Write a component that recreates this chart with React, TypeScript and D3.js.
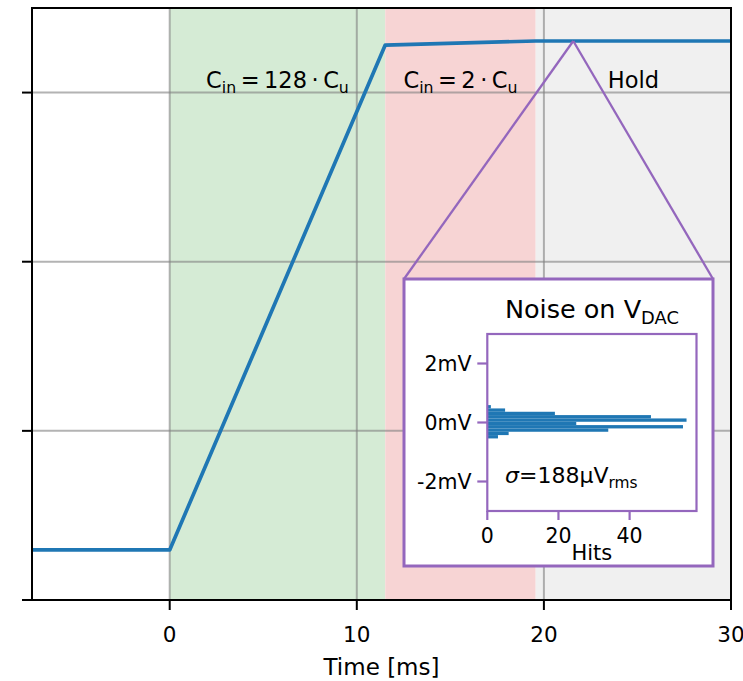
import React from 'react';
import * as d3 from 'd3';

// ---- main trace (arbitrary units, y ticks unlabeled) ----
const timeMs = [-7.36, 0, 11.52, 19.56, 30];
const vdacLevel = [0.296, 0.296, 3.281, 3.305, 3.305];

// ---- phases ----
const phaseStart = [0, 11.52, 19.56];
const phaseEnd = [11.52, 19.56, 30];
const phaseColors = ['#d5ebd5', '#f7d4d4', '#f0f0f0'];
type Seg = { t: string; sub?: boolean; italic?: boolean };
const phaseLabels: Seg[][] = [
  [{ t: 'C' }, { t: 'in', sub: true }, { t: '\u2009=\u2009128\u2009·\u2009' }, { t: 'C' }, { t: 'u', sub: true }],
  [{ t: 'C' }, { t: 'in', sub: true }, { t: '\u2009=\u20092\u2009·\u2009' }, { t: 'C' }, { t: 'u', sub: true }],
  [{ t: 'Hold' }],
];

const xTicks = [0, 10, 20, 30];
const yTicks = [0, 1, 2, 3];
const xLabel = 'Time [ms]';

const zoomPoint = [21.57, 3.305];

// ---- inset histogram ----
const binEdges = [-0.54, -0.427, -0.314, -0.201, -0.088, 0.025, 0.138, 0.251, 0.364, 0.477, 0.59];
const hits = [3, 6, 34, 55, 25, 56, 46, 19, 5, 1];
const hitTicks = [0, 20, 40];
const noiseTicks = [2, 0, -2];
const noiseTickLabels = ['2mV', '0mV', '-2mV'];
const insetTitle: Seg[] = [{ t: 'Noise on V' }, { t: 'DAC', sub: true }];
const sigmaText: Seg[] = [{ t: 'σ', italic: true }, { t: '=188μV' }, { t: 'rms', sub: true }];
const hitsLabel = 'Hits';

const FONT = 'DejaVu Sans, Verdana, sans-serif';
const BLUE = '#1f77b4';
const PURPLE = '#9467bd';

function MathText({ segs, fontSize }: { segs: Seg[]; fontSize: number }) {
  let shift = 0;
  const subDy = fontSize * 0.22;
  return (
    <>
      {segs.map((s, i) => {
        const target = s.sub ? subDy : 0;
        const dy = target - shift;
        shift = target;
        return (
          <tspan
            key={i}
            dy={dy}
            fontSize={s.sub ? fontSize * 0.7 : fontSize}
            fontStyle={s.italic ? 'italic' : undefined}
          >
            {s.t}
          </tspan>
        );
      })}
    </>
  );
}

export default function App() {
  const W = 743;
  const H = 681;
  const x = d3.scaleLinear().domain([-7.36, 30]).range([32, 731]);
  const y = d3.scaleLinear().domain([0, 3.5]).range([600, 8]);
  const line = d3
    .line<number>()
    .x((_, i) => x(timeMs[i]))
    .y((d) => y(d));

  const inset = { x0: 404, y0: 279, x1: 713, y1: 566 };
  const hx = d3.scaleLinear().domain([0, 58.8]).range([487.3, 696.5]);
  const hy = d3.scaleLinear().domain([-3, 3]).range([511, 334]);

  const apexX = x(zoomPoint[0]);
  const apexY = y(zoomPoint[1]);

  return (
    <svg
      width={W}
      height={H}
      style={{ position: 'absolute', left: 0, top: 0, display: 'block', fontFamily: FONT, whiteSpace: 'pre' }}
    >
      <rect x={0} y={0} width={W} height={H} fill="white" />
      {/* phase spans */}
      {phaseStart.map((s, i) => (
        <rect
          key={i}
          x={x(s)}
          y={y(3.5)}
          width={x(phaseEnd[i]) - x(s)}
          height={y(0) - y(3.5)}
          fill={phaseColors[i]}
        />
      ))}
      {/* grid */}
      {xTicks.map((t) => (
        <line key={'gx' + t} x1={x(t)} x2={x(t)} y1={y(0)} y2={y(3.5)} stroke="#808080" strokeOpacity={0.6} strokeWidth={2} />
      ))}
      {yTicks.map((t) => (
        <line key={'gy' + t} x1={x(-7.36)} x2={x(30)} y1={y(t)} y2={y(t)} stroke="#808080" strokeOpacity={0.6} strokeWidth={2} />
      ))}
      {/* phase labels */}
      {phaseLabels.map((segs, i) => (
        <text key={'pl' + i} x={x((phaseStart[i] + phaseEnd[i]) / 2)} y={88} textAnchor="middle" fill="#000">
          <MathText segs={segs} fontSize={22.5} />
        </text>
      ))}
      {/* trace */}
      <path d={line(vdacLevel) || ''} fill="none" stroke={BLUE} strokeWidth={3.7} strokeLinejoin="round" />
      {/* zoom connectors */}
      <line x1={apexX} y1={apexY} x2={inset.x0} y2={inset.y0} stroke={PURPLE} strokeWidth={2.3} />
      <line x1={apexX} y1={apexY} x2={inset.x1} y2={inset.y0} stroke={PURPLE} strokeWidth={2.3} />
      {/* spines */}
      <rect x={x(-7.36)} y={y(3.5)} width={x(30) - x(-7.36)} height={y(0) - y(3.5)} fill="none" stroke="#000" strokeWidth={2} />
      {/* ticks */}
      {yTicks.map((t) => (
        <line key={'ty' + t} x1={x(-7.36) - 10} x2={x(-7.36)} y1={y(t)} y2={y(t)} stroke="#000" strokeWidth={2} />
      ))}
      {xTicks.map((t) => (
        <g key={'tx' + t}>
          <line x1={x(t)} x2={x(t)} y1={y(0)} y2={y(0) + 10} stroke="#000" strokeWidth={2} />
          <text x={x(t)} y={641.5} textAnchor="middle" fontSize={21.5} fill="#000">
            {t}
          </text>
        </g>
      ))}
      <text x={(x(-7.36) + x(30)) / 2} y={675} textAnchor="middle" fontSize={23} fill="#000">
        {xLabel}
      </text>

      {/* inset */}
      <rect
        x={inset.x0}
        y={inset.y0}
        width={inset.x1 - inset.x0}
        height={inset.y1 - inset.y0}
        fill="white"
        stroke={PURPLE}
        strokeWidth={3}
      />
      <text x={(hx.range()[0] + hx.range()[1]) / 2} y={318} textAnchor="middle" fill="#000">
        <MathText segs={insetTitle} fontSize={25.5} />
      </text>
      {hits.map((h, i) => (
        <rect
          key={'b' + i}
          x={hx(0)}
          y={hy(binEdges[i + 1])}
          width={hx(h) - hx(0)}
          height={hy(binEdges[i]) - hy(binEdges[i + 1])}
          fill={BLUE}
        />
      ))}
      <rect
        x={hx(0)}
        y={hy(3)}
        width={hx(58.8) - hx(0)}
        height={hy(-3) - hy(3)}
        fill="none"
        stroke={PURPLE}
        strokeWidth={2.2}
      />
      {noiseTicks.map((t, i) => (
        <g key={'ny' + t}>
          <line x1={hx(0) - 10} x2={hx(0)} y1={hy(t)} y2={hy(t)} stroke={PURPLE} strokeWidth={2.2} />
          <text x={471.5} y={hy(t) + 7.3} textAnchor="end" fontSize={20.5} fill="#000">
            {noiseTickLabels[i]}
          </text>
        </g>
      ))}
      {hitTicks.map((t) => (
        <g key={'hx' + t}>
          <line x1={hx(t)} x2={hx(t)} y1={hy(-3)} y2={hy(-3) + 9} stroke={PURPLE} strokeWidth={2.2} />
          <text x={hx(t)} y={542.5} textAnchor="middle" fontSize={20.5} fill="#000">
            {t}
          </text>
        </g>
      ))}
      <text x={(hx.range()[0] + hx.range()[1]) / 2} y={560} textAnchor="middle" fontSize={21} fill="#000">
        {hitsLabel}
      </text>
      <text x={505} y={483} fill="#000">
        <MathText segs={sigmaText} fontSize={22} />
      </text>
    </svg>
  );
}
